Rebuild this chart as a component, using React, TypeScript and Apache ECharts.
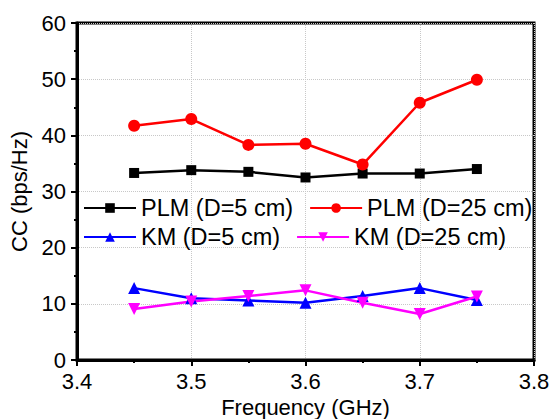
import React, { useEffect, useRef } from "react";
import * as echarts from "echarts";

const freqs = [3.45, 3.5, 3.55, 3.6, 3.65, 3.7, 3.75];
const plm5 = [33.3, 33.8, 33.5, 32.5, 33.2, 33.2, 34.0];
const plm25 = [41.7, 42.9, 38.3, 38.5, 34.8, 45.8, 49.9];
const km5 = [12.8, 11.0, 10.6, 10.2, 11.4, 12.8, 10.7];
const km25 = [9.1, 10.4, 11.4, 12.4, 10.2, 8.2, 11.3];
const seriesNames = ["PLM (D=5 cm)", "PLM (D=25 cm)", "KM (D=5 cm)", "KM (D=25 cm)"];
const xTicks = [3.4, 3.5, 3.6, 3.7, 3.8];
const yTicks = [0, 10, 20, 30, 40, 50, 60];

const FONT = "Liberation Sans, Arial, sans-serif";

export default function App() {
  const ref = useRef<HTMLDivElement>(null);
  useEffect(() => {
    if (!ref.current) return;
    const chart = echarts.init(ref.current, null, { renderer: "svg" });
    const pair = (arr: number[]) => freqs.map((f, i) => [f, arr[i]]);
    const axisCommon = {
      axisLine: { show: true, lineStyle: { color: "#000", width: 3 } },
      axisTick: { show: true, inside: false, length: 6, lineStyle: { color: "#000", width: 2 } },
      minorTick: { show: true, splitNumber: 2, length: 3, lineStyle: { color: "#000", width: 2 } },
      splitLine: { show: true, lineStyle: { color: "#c8c8c8", type: "dotted", width: 1 } },
      nameTextStyle: { color: "#000", fontSize: 22, fontFamily: FONT },
    };
    const legendCommon = {
      orient: "horizontal",
      padding: 0,
      itemWidth: 52,
      itemHeight: 12,
      itemGap: 16,
      textStyle: { color: "#000", fontSize: 23.5, fontFamily: FONT },
    };
    chart.setOption({
      animation: false,
      backgroundColor: "#fff",
      grid: {
        left: 77,
        right: 16,
        top: 23,
        bottom: 59,
        outerBoundsMode: "none",
        containLabel: false,
        show: true,
        borderColor: "#000",
        borderWidth: 3,
        backgroundColor: "transparent",
      },
      legend: [
        { ...legendCommon, left: 83, top: 196, data: [seriesNames[0], seriesNames[1]] },
        { ...legendCommon, left: 83, top: 225, data: [seriesNames[2], seriesNames[3]] },
      ],
      xAxis: {
        ...axisCommon,
        type: "value",
        min: 3.4,
        max: 3.8,
        interval: 0.1,
        name: "Frequency (GHz)",
        nameLocation: "middle",
        nameGap: 32,
        axisLabel: {
          color: "#000",
          fontSize: 22,
          fontFamily: FONT,
          margin: 10,
          formatter: (v: number) => {
            const t = xTicks.find((x) => Math.abs(x - v) < 1e-6);
            return t !== undefined ? t.toFixed(1) : "";
          },
        },
      },
      yAxis: {
        ...axisCommon,
        type: "value",
        min: 0,
        max: 60,
        interval: 10,
        name: "CC (bps/Hz)",
        nameLocation: "middle",
        nameGap: 40,
        axisLabel: {
          color: "#000",
          fontSize: 22,
          fontFamily: FONT,
          margin: 11,
          formatter: (v: number) => (yTicks.includes(v) ? String(v) : ""),
        },
      },
      series: [
        {
          name: seriesNames[0],
          type: "line",
          data: pair(plm5),
          color: "#000000",
          symbol: "rect",
          symbolSize: 10,
          lineStyle: { width: 2.5 },
        },
        {
          name: seriesNames[1],
          type: "line",
          data: pair(plm25),
          color: "#ff0000",
          symbol: "circle",
          symbolSize: 12,
          lineStyle: { width: 2.5 },
        },
        {
          name: seriesNames[2],
          type: "line",
          data: pair(km5),
          color: "#0000ff",
          symbol: "triangle",
          symbolSize: 12,
          lineStyle: { width: 2.5 },
        },
        {
          name: seriesNames[3],
          type: "line",
          data: pair(km25),
          color: "#ff00ff",
          symbol: "triangle",
          symbolRotate: 180,
          symbolSize: 12,
          lineStyle: { width: 2.5 },
        },
      ],
    });
    return () => chart.dispose();
  }, []);
  return (
    <div
      ref={ref}
      style={{ position: "absolute", left: 0, top: 0, width: 550, height: 419 }}
    />
  );
}
